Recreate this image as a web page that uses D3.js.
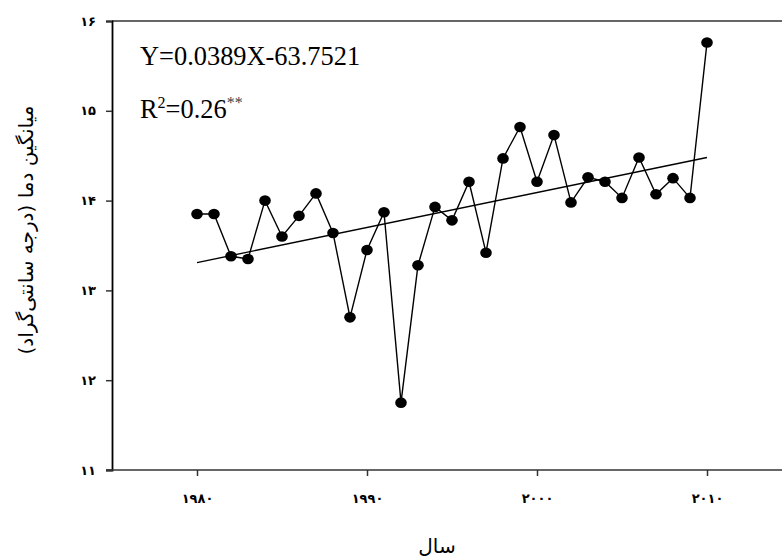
<!DOCTYPE html>
<html>
<head>
<meta charset="utf-8">
<script src="https://cdn.jsdelivr.net/npm/d3@7"></script>
<style>
  html, body { margin: 0; padding: 0; background: #fff; }
  svg { display: block; }
</style>
</head>
<body>
<svg id="chart" width="782" height="559"></svg>
<script>
const years = [1980,1981,1982,1983,1984,1985,1986,1987,1988,1989,1990,1991,1992,1993,1994,1995,1996,1997,1998,1999,2000,2001,2002,2003,2004,2005,2006,2007,2008,2009,2010];
const temps = [13.85,13.85,13.38,13.35,14.00,13.60,13.83,14.08,13.64,12.70,13.45,13.87,11.75,13.28,13.93,13.78,14.21,13.42,14.47,14.82,14.21,14.73,13.98,14.26,14.21,14.03,14.48,14.07,14.25,14.03,15.76];
const trendYears = [1980, 2010];
const trendValues = [13.31, 14.48];
const xTicks = [1980, 1990, 2000, 2010];
const yTicks = [11, 12, 13, 14, 15, 16];
const equationText = "Y=0.0389X-63.7521";
const r2Text = "R";
const r2Value = "=0.26";
const xTitle = "سال";
const yTitle = "میانگین دما (درجه سانتی‌گراد)";

const fa = s => String(s).replace(/\d/g, d => "۰۱۲۳۴۵۶۷۸۹"[d]);

const svg = d3.select("#chart");
const mLeft = 112, mTop = 21, mBottom = 470;
const x = d3.scaleLinear().domain([1975, 2015]).range([mLeft, mLeft + 680]);
const y = d3.scaleLinear().domain([11, 16]).range([mBottom, mTop]);

// frame top line
svg.append("line")
  .attr("x1", mLeft).attr("x2", 800).attr("y1", y(16)).attr("y2", y(16))
  .attr("stroke", "#333").attr("stroke-width", 1.5);

// y axis
const yAxis = svg.append("g").attr("transform", `translate(${mLeft},0)`)
  .call(d3.axisLeft(y).tickValues(yTicks).tickSize(6).tickPadding(10).tickFormat(fa));
yAxis.select(".domain").attr("stroke", "#000").attr("stroke-width", 1.8);
yAxis.selectAll(".tick line").attr("stroke", "#333").attr("stroke-width", 1.5);
yAxis.selectAll("text").attr("font-family", "DejaVu Sans").attr("font-size", 13).attr("font-weight", "bold").attr("fill", "#000");

// x axis
const xAxis = svg.append("g").attr("transform", `translate(0,${mBottom})`)
  .call(d3.axisBottom(x).tickValues(xTicks).tickSize(6).tickPadding(18).tickFormat(fa));
xAxis.select(".domain").remove();
xAxis.append("line").attr("x1", mLeft - 6).attr("x2", 800).attr("y1", 0).attr("y2", 0)
  .attr("stroke", "#333").attr("stroke-width", 1.5);
xAxis.selectAll(".tick line").attr("stroke", "#333").attr("stroke-width", 1.5);
xAxis.selectAll("text").attr("font-family", "DejaVu Sans").attr("font-size", 13).attr("font-weight", "bold").attr("fill", "#000");

// trend line
svg.append("line")
  .attr("x1", x(trendYears[0])).attr("y1", y(trendValues[0]))
  .attr("x2", x(trendYears[1])).attr("y2", y(trendValues[1]))
  .attr("stroke", "#000").attr("stroke-width", 1.4);

// data line
const pts = years.map((yr, i) => [yr, temps[i]]);
svg.append("path").datum(pts)
  .attr("d", d3.line().x(d => x(d[0])).y(d => y(d[1])))
  .attr("fill", "none").attr("stroke", "#000").attr("stroke-width", 1.4);
svg.selectAll("ellipse.pt").data(pts).enter().append("ellipse")
  .attr("class", "pt")
  .attr("cx", d => x(d[0])).attr("cy", d => y(d[1]))
  .attr("rx", 5.8).attr("ry", 5.3).attr("fill", "#000");

// equation texts
svg.append("text").attr("x", 140).attr("y", 65)
  .attr("font-family", "Liberation Serif").attr("font-size", 26.4).attr("fill", "#000")
  .text(equationText);
const r2 = svg.append("text").attr("x", 140).attr("y", 118)
  .attr("font-family", "Liberation Serif").attr("font-size", 26.4).attr("fill", "#000");
r2.append("tspan").text(r2Text);
r2.append("tspan").attr("font-size", 16).attr("dy", -10).text("2");
r2.append("tspan").attr("dy", 10).text(r2Value);
r2.append("tspan").attr("font-size", 16).attr("dy", -10).attr("fill", "#444").text("**");

// axis titles
svg.append("text").attr("x", 437).attr("y", 553).attr("text-anchor", "middle")
  .attr("font-family", "DejaVu Sans").attr("font-size", 20).attr("fill", "#000")
  .attr("direction", "rtl")
  .text(xTitle);
svg.append("text")
  .attr("transform", "translate(33,230) rotate(-90)")
  .attr("text-anchor", "middle")
  .attr("font-family", "DejaVu Sans").attr("font-size", 20).attr("fill", "#000")
  .attr("direction", "rtl")
  .text(yTitle);
</script>
</body>
</html>
